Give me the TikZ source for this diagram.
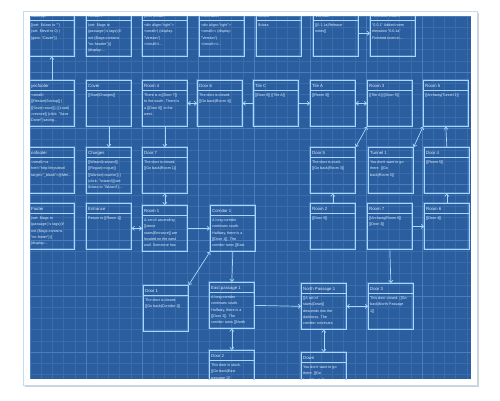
\documentclass[tikz,border=0pt]{standalone}
\usepackage{fontspec}
\setmainfont{Liberation Sans}
\usetikzlibrary{arrows.meta,positioning}

\definecolor{bpblue}{HTML}{2B5E9F}
\definecolor{bpgrid}{HTML}{3A6CAC}
\definecolor{bpmajor}{HTML}{4A7DBB}
\definecolor{boxline}{HTML}{A9D6FF}
\definecolor{boxglow}{HTML}{6AA6E6}
\definecolor{ptext}{HTML}{E2F1FF}
\definecolor{frameline}{HTML}{C4DAEE}

\tikzset{
  pbox/.style={anchor=north west, minimum width=45pt, minimum height=46pt,
               inner sep=0pt, draw=boxline, line width=0.7pt,
               preaction={draw=boxglow, line width=2pt, opacity=0.45}},
  psep/.style={draw=boxline, line width=0.6pt},
  ptitle/.style={anchor=base west, inner sep=0pt, text=ptext,
                 font=\fontsize{4.3}{5}\selectfont},
  pbody/.style={anchor=north west, inner sep=0pt, align=left, text=ptext,
                font=\fontsize{3.7}{6.4}\selectfont},
  link/.style={draw=boxline, line width=0.7pt, ->},
  twolink/.style={link, <->}
}

% one passage: name, x, y, title, text
\newcommand\passage[5]{%
  \node[pbox] (#1) at (#2,#3) {};
  \draw[psep] ([shift={(0,10)}]#1.north west) -- ([shift={(0,10)}]#1.north east);
  \node[ptitle] at ([shift={(2,7.5)}]#1.north west) {#4};
  \node[pbody] at ([shift={(2,13.4)}]#1.north west) {#5};
}

\begin{document}
\begin{tikzpicture}[x=1pt, y=-1pt, >={Straight Barb[length=2.2pt,width=4pt]}]
  \useasboundingbox (0,0) rectangle (500,400);

  % window and blueprint
  \fill[black!18] (25,13) rectangle (479,387);
  \draw[frameline, fill=white, line width=0.8pt] (23,11) rectangle (477,385);
  \fill[bpblue] (30,16) rectangle (471,379);
  \foreach \gx in {0,...,39}
    \draw[bpgrid, line width=0.4pt] ({30+11.2*\gx},16) -- ({30+11.2*\gx},379);
  \foreach \gy in {0,...,32}
    \draw[bpgrid, line width=0.4pt] (30,{16+11.2*\gy}) -- (471,{16+11.2*\gy});
  \foreach \gx in {0,5,...,35}
    \draw[bpmajor, line width=0.5pt] ({30+11.2*\gx},16) -- ({30+11.2*\gx},379);
  \foreach \gy in {0,5,...,30}
    \draw[bpmajor, line width=0.5pt] (30,{16+11.2*\gy}) -- (471,{16+11.2*\gy});

  \begin{scope}
    \clip (30,16) rectangle (471,379);

    % top row
    \passage{startup}{29}{10}{StartUp}{[(set: \$class to "")\\(set: \$level to 0) |\\(goto: "Cover")]}
    \passage{header}{86}{10}{Header}{(set: \$tags to\\(passage:)'s tags)(if:\\not (\$tags contains\\"no-header"))[\\(display:...}
    \passage{yecheader}{142}{10}{yecHeader}{<div align="right">\\<small>( (display:\\"Version")\\</small>/...}
    \passage{noheader}{199}{10}{noheader}{<div align="right">\\<small>= (display:\\"Version")\\</small>=/...}
    \passage{class}{256}{10}{Class}{\$class}
    \passage{version}{313}{10}{Version}{[[0.1.1a|Release\\notes]]}
    \passage{notes}{370}{10}{Release notes}{"0.0.1" Added room\\elevation "0.0.1a"\\Finished room st...}

    \passage{yecfooter}{29}{80}{yecfooter}{<small>\\{}[[Restart|Startup]] |\\{}[[Save|=save]] | [[Load|\\=restore]] (click: "Save\\Done!")saving...}
    \passage{cover}{86}{80}{Cover}{[[Start|Charges]]}
    \passage{room4}{142}{80}{Room 4}{There is a [[Door 7]]\\to the south. There is\\a [[Door 6]] to the\\west.}
    \passage{door6}{197}{80}{Door 6}{The door is closed.\\{}[[Go back|Room 4]]}
    \passage{tilec}{253}{80}{Tile C}{[[Door 6]] [[Tile A]]}
    \passage{tilea}{310}{80}{Tile A}{[[Room 3]]}
    \passage{room3}{367}{80}{Room 3}{[[Tile A]] [[Door 5]]}
    \passage{room5}{423}{80}{Room 5}{[[Archway|Tunnel 1]]}

    \passage{nofooter}{29}{147}{nofooter}{<small><a\\href="http://mysiteurl\\target="\_blank">@Mel...}
    \passage{charges}{86}{147}{Charges}{[[Wizard|=wizard]]\\{}[[Rogue|=rogue]]\\{}[[Warrior|=warrior]] |\\(click: ?wizard)[(set:\\\$class to "Wizard")...}
    \passage{door7}{142}{147}{Door 7}{The door is closed.\\{}[[Go back|Room 1]]}
    \passage{door5}{310}{147}{Door 5}{The door is stuck.\\{}[[Go back|Room 3]]}
    \passage{tunnel1}{368}{147}{Tunnel 1}{You don't want to go\\there. [[Go\\back|Room 5]]}
    \passage{door4}{424}{147}{Door 4}{[[Room 5]]}

    \passage{footer}{29}{203}{Footer}{(set: \$tags to\\(passage:)'s tags)(if:\\not (\$tags contains\\"no-footer"))[\\(display:...}
    \passage{entrance}{86}{203}{Entrance}{Return to [[Room 1]]}
    \passage{room1}{142}{205}{Room 1}{A set of ascending\\{}[[stone\\stairs|Entrance]] are\\located on the west\\wall. Someone has}
    \passage{corridor1}{210}{205}{Corridor 1}{A long corridor\\continues south.\\Halfway, there is a\\{}[[Door 1]]. The\\corridor turns [[East}
    \passage{room2}{310}{203}{Room 2}{[[Door 5]]}
    \passage{room7}{367}{203}{Room 7}{[[Archway|Room 6]]\\{}[[Door 3]]}
    \passage{room6}{424}{203}{Room 6}{[[Door 4]]}

    \passage{door1}{143}{285}{Door 1}{The door is closed.\\{}[[Go back|Corridor 1]]}
    \passage{east1}{209}{282}{East passage 1}{A long corridor\\continues south.\\Halfway, there is a\\{}[[Door 2]]. The\\corridor turns [[North}
    \passage{north1}{301}{283}{North Passage 1}{[[A set of\\stairs|Down]]\\descends into the\\darkness. The\\corridor continues}
    \passage{door3}{368}{283}{Door 3}{This door closed. [[Go\\back|North Passage\\1]]}

    \passage{door2}{209}{350}{Door 2}{This door is stuck.\\{}[[Go back|East\\passage 1]]}
    \passage{down}{301}{352}{Down}{You don't want to go\\there. [[Go\\back|North Passage}

    % links
    \draw[link] (yecfooter.north) -- (startup.south);
    \draw[link] (version.east) -- (notes.west);
    \draw[link] (cover.south) -- (charges.north);
    \draw[link] (room4.south) -- (door7.north);
    \draw[twolink] (room4.east) -- (door6.west);
    \draw[link] (tilec.west) -- (door6.east);
    \draw[link] (tilec.east) -- (tilea.west);
    \draw[twolink] (tilea.east) -- (room3.west);
    \draw[twolink] (room3.south west) -- (door5.north east);
    \draw[twolink] (room5.south west) -- (tunnel1.north east);
    \draw[link] (door4.north) -- (room5.south);
    \draw[twolink] (door7.south) -- (room1.north);
    \draw[twolink] (room1.west) -- (room1.west -| entrance.east);
    \draw[link] (room1.east) -- (corridor1.west);
    \draw[link] (room7.east) -- (room6.west);
    \draw[link] (room2.north) -- (door5.south);
    \draw[link] (room6.north) -- (door4.south);
    \draw[link] (room7.south) -- (door3.north);
    \draw[link] (corridor1.south) -- (east1.north);
    \draw[twolink] (corridor1.south west) -- (door1.north east);
    \draw[link] (east1.east) -- (north1.west);
    \draw[twolink] (north1.east) -- (door3.west);
    \draw[twolink] (east1.south) -- (door2.north);
    \draw[twolink] (north1.south) -- (down.north);
  \end{scope}
\end{tikzpicture}
\end{document}
